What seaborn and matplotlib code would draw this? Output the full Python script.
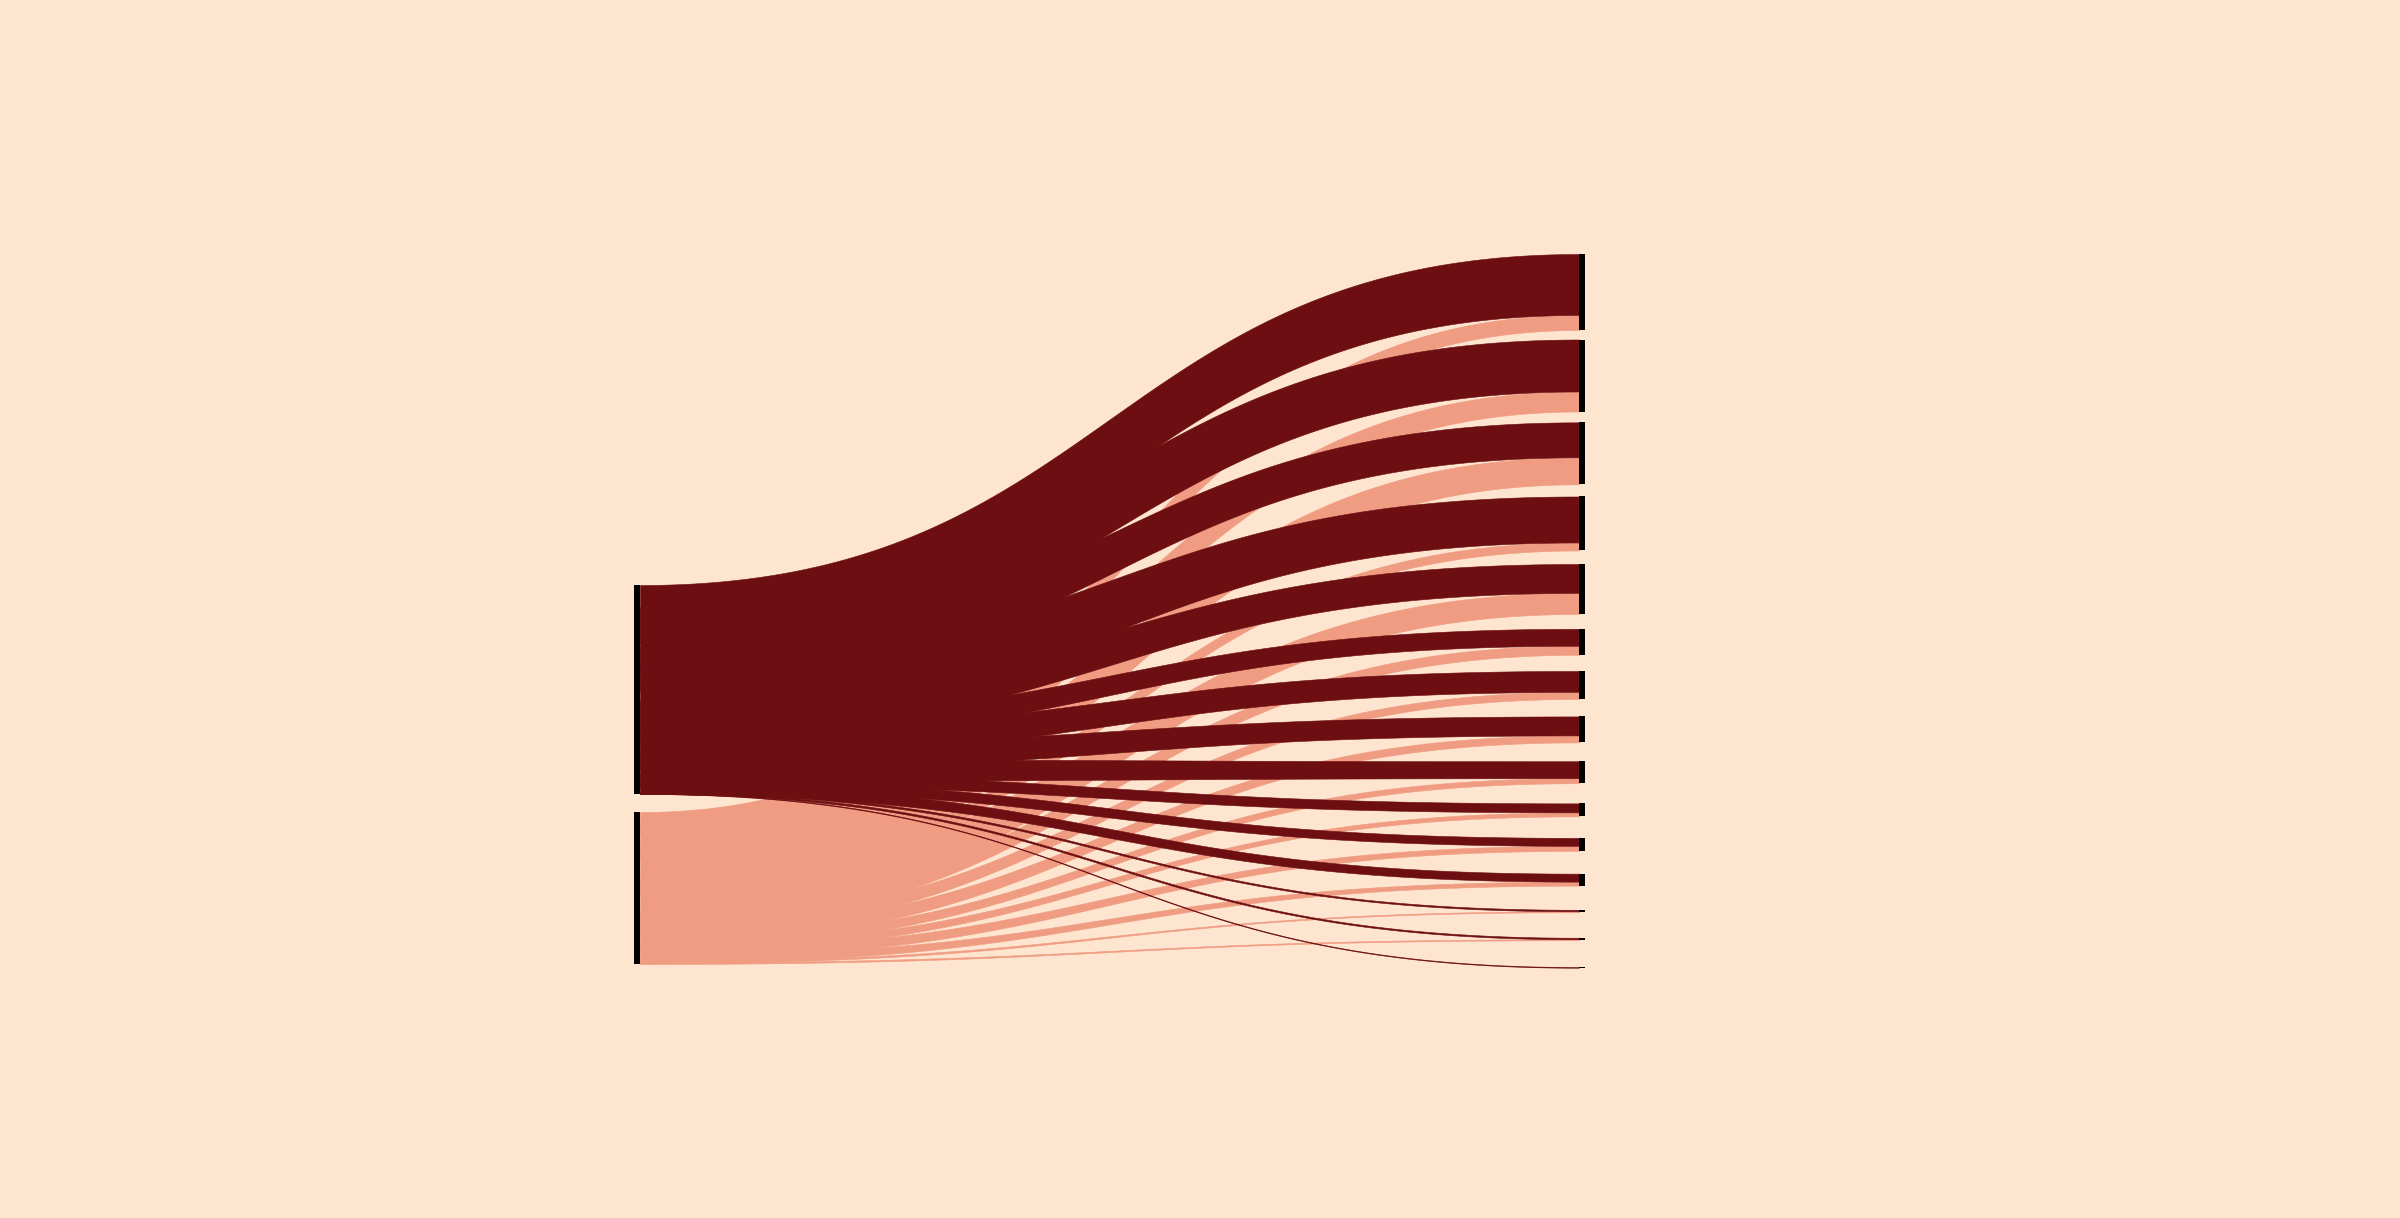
import numpy as np
import pandas as pd
import matplotlib
matplotlib.use("Agg")
import matplotlib.pyplot as plt
import seaborn as sns

# source nodes (left) and their heights
sources = ["A", "B"]
source_totals = [209, 152]

# target nodes (right), top to bottom
targets = [f"T{i}" for i in range(1, 16)]

# flow widths arriving at each target, per source
flows_a = [61, 52, 35, 46, 29, 17, 21, 19, 17, 9, 8, 8, 1.5, 1.5, 0.7]
flows_b = [15, 20, 27, 8, 21, 9, 7, 7, 5, 4, 5, 4, 1, 1, 0]

BG = "#fee5d0"
COLORS = {"A": "#6d0f12", "B": "#f09c82"}

# layout (figure pixels)
LEFT_X, RIGHT_X, BAR_W = 634, 1579, 6
LEFT_TOP, LEFT_GAP = 585, 18
RIGHT_TOP = 254
# ribbons fan out wider at the source end, so they overlap there
LEFT_SPREAD = {"A": 1.3, "B": 1.9}


def build_links():
    rows = []
    for src, vals in zip(sources, [flows_a, flows_b]):
        for tgt, v in zip(targets, vals):
            if v > 0:
                rows.append({"source": src, "target": tgt, "value": v})
    return pd.DataFrame(rows)


def layout(links):
    # left column
    left = {}
    y = LEFT_TOP
    for src, h in zip(sources, source_totals):
        left[src] = (y, y + h)
        y += h + LEFT_GAP

    # right column, gap grows a little towards the bottom
    tgt_tot = links.groupby("target")["value"].sum().reindex(targets).fillna(0)
    right = {}
    y = RIGHT_TOP
    for i, tgt in enumerate(targets):
        right[tgt] = (y, y + tgt_tot[tgt])
        y += tgt_tot[tgt] + 9.5 + 1.33 * i

    # link end positions
    ends = []
    right_fill = {t: right[t][0] for t in targets}
    for src in sources:
        sub = links[links["source"] == src]
        top, bot = left[src]
        k = (bot - top) / sub["value"].sum()
        cum = 0
        for _, r in sub.iterrows():
            mid = top + k * (cum + r["value"] / 2)
            half = r["value"] * LEFT_SPREAD[src] / 2
            l0 = max(mid - half, top)
            l1 = min(mid + half, bot)
            r0 = right_fill[r["target"]]
            r1 = r0 + r["value"]
            right_fill[r["target"]] = r1
            cum += r["value"]
            ends.append((src, l0, l1, r0, r1))
    return left, right, ends


def ribbon(ax, l0, l1, r0, r1, color):
    t = np.linspace(0, 1, 300)
    x0, x1 = LEFT_X + BAR_W, RIGHT_X
    x = x0 + (x1 - x0) * (1.5 * t - 1.5 * t**2 + t**3)
    s = 3 * t**2 - 2 * t**3
    top = l0 + (r0 - l0) * s
    bot = l1 + (r1 - l1) * s
    ax.fill_between(x, top, bot, color=color, linewidth=0.4, edgecolor=color)


def main():
    sns.set_theme(style="white", rc={"figure.facecolor": BG, "axes.facecolor": BG})
    links = build_links()
    left, right, ends = layout(links)

    fig, ax = plt.subplots(figsize=(24, 12.18), dpi=100)
    fig.subplots_adjust(left=0, right=1, top=1, bottom=0)

    # salmon first, dark on top
    for src in ["B", "A"]:
        for s, l0, l1, r0, r1 in ends:
            if s == src:
                ribbon(ax, l0, l1, r0, r1, COLORS[src])

    for src in sources:
        y0, y1 = left[src]
        ax.bar(LEFT_X, y1 - y0, bottom=y0, width=BAR_W, align="edge", color="black", linewidth=0)
    for tgt in targets:
        y0, y1 = right[tgt]
        ax.bar(RIGHT_X, y1 - y0, bottom=y0, width=BAR_W, align="edge", color="black", linewidth=0)

    ax.set_xlim(0, 2400)
    ax.set_ylim(1218, 0)
    ax.axis("off")
    fig.savefig("out.png", dpi=100, facecolor=BG)
    plt.close(fig)


if __name__ == "__main__":
    main()
